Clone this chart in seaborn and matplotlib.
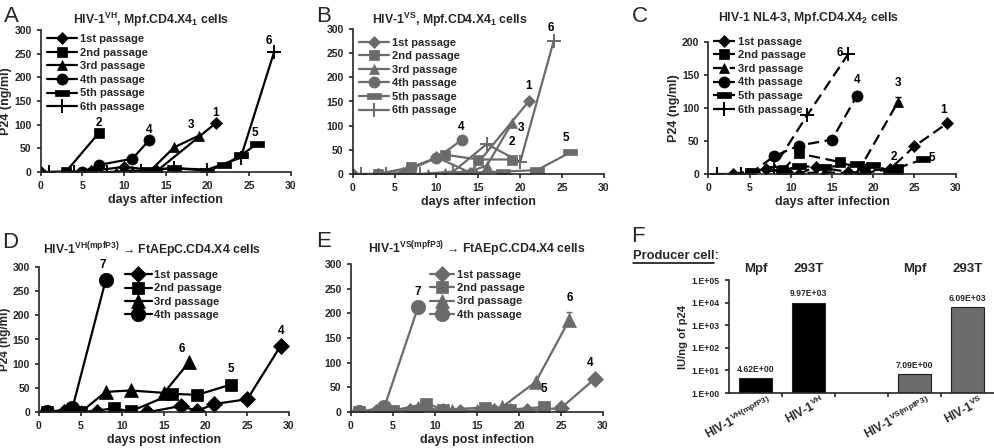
import numpy as np
import pandas as pd
import matplotlib
matplotlib.use('Agg')
import matplotlib.pyplot as plt
import seaborn as sns
from matplotlib.lines import Line2D
from matplotlib.transforms import ScaledTranslation, blended_transform_factory

# ---------------- data ----------------
passages = ['1st passage', '2nd passage', '3rd passage', '4th passage', '5th passage', '6th passage']

A_days = [[0, 6, 10, 14, 21], [3, 7], [9, 11, 13, 16, 19], [5, 7, 11, 13],
          [13, 16, 20, 22, 24, 26], [1, 4, 8, 12, 16, 20, 24, 28]]
A_p24 = [[0, 2, 11, 3, 103], [0, 83], [0, 2, 0, 52, 77], [0, 15, 28, 67],
         [5, 8, 3, 15, 35, 60], [0, 0, 0, 3, 8, 5, 30, 253]]
A_tags = ['1', '2', '3', '4', '5', '6']

B_days = [[0, 3, 6, 10, 14, 21], [3, 7, 11, 15, 19], [9, 11, 13, 16, 19], [3, 7, 10, 13],
          [13, 14, 18, 22, 26], [1, 4, 8, 12, 16, 20, 24]]
B_p24 = [[0, 0, 2, 35, 3, 150], [0, 14, 40, 30, 30], [0, 2, 0, 17, 105], [0, 12, 33, 70],
         [0, 3, 5, 8, 45], [0, 0, 0, 5, 62, 25, 276]]
B_tags = ['1', '2', '3', '4', '5', '6']

C_days = [[3, 7, 11, 13, 17, 19, 22, 25, 29], [5, 9, 11, 16, 19, 23], [10, 14, 18, 23],
          [5, 8, 11, 15, 18], [9, 11, 14, 18, 20, 22, 26], [1, 4, 8, 12, 17]]
C_p24 = [[0, 8, 0, 11, 3, 2, 7, 42, 77], [2, 6, 31, 18, 5, 8], [0, 3, 0, 109],
         [0, 27, 43, 52, 118], [5, 12, 10, 15, 13, 5, 22], [0, 0, 11, 89, 182]]
C_tags = ['1', '2', '3', '4', '5', '6']
C_err3 = 8

D_days = [[3, 7, 13, 17, 19, 21, 25, 29], [1, 5, 9, 11, 16, 19, 23], [5, 8, 11, 15, 18], [1, 4, 8]]
D_p24 = [[0, 0, 0, 13, 3, 17, 27, 137], [0, 0, 8, 2, 38, 36, 57], [0, 42, 45, 40, 103], [0, 8, 272]]
D_tags = ['4', '5', '6', '7']

E_days = [[3, 7, 11, 13, 17, 19, 21, 25, 29], [1, 5, 9, 11, 16, 19, 23], [4, 8, 12, 15, 18, 22, 26], [1, 4, 8]]
E_p24 = [[0, 3, 2, 1, 3, 2, 3, 8, 67], [0, 3, 17, 5, 9, 5, 10], [0, 8, 3, 3, 10, 61, 187], [0, 10, 212]]
E_tags = ['4', '5', '6', '7']
E_err3 = 15

F_order = ['HIV-1$^{VH(mpfP3)}$', 'HIV-1$^{VH}$', 'gap', 'HIV-1$^{VS(mpfP3)}$', 'HIV-1$^{VS}$']
F_names = ['HIV-1$^{VH(mpfP3)}$', 'HIV-1$^{VH}$', 'HIV-1$^{VS(mpfP3)}$', 'HIV-1$^{VS}$']
F_values = [4.62, 9970, 7.09, 6090]
F_producer = ['Mpf', '293T', 'Mpf', '293T']

# ---------------- style ----------------
sns.set_theme(style='ticks')
plt.rcParams['font.family'] = ['Liberation Sans', 'DejaVu Sans']
plt.rcParams['font.weight'] = 'bold'
plt.rcParams['mathtext.default'] = 'regular'
plt.rcParams['axes.linewidth'] = 1.2
plt.rcParams['xtick.major.width'] = 1.2
plt.rcParams['ytick.major.width'] = 1.2
plt.rcParams['xtick.major.size'] = 3
plt.rcParams['ytick.major.size'] = 3
plt.rcParams['xtick.labelsize'] = 7.5
plt.rcParams['ytick.labelsize'] = 7.5

BLACK = '#000000'
GRAY = '#6b6b6b'
BAR = [(-1, -0.38), (1, -0.38), (1, 0.38), (-1, 0.38), (-1, -0.38)]
MARK = [('D', 6), ('s', 7), ('^', 7.5), ('o', 8), (BAR, 9.5), ('+', 9.5)]

W, H = 994, 448
fig = plt.figure(figsize=(W / 100, H / 100), dpi=100)


def px_axes(l, t, r, b):
    return fig.add_axes([l / W, 1 - b / H, (r - l) / W, (b - t) / H])


def fig_text(x, y, s, **kw):
    fig.text(x / W, 1 - y / H, s, **kw)


def draw_lines(ax, days, vals, names, tags, offs, color, ls='-', mscale=1.0):
    for i, (d, v) in enumerate(zip(days, vals)):
        df = pd.DataFrame({'day': d, 'p24': v})
        m, ms = MARK[i]
        sns.lineplot(data=df, x='day', y='p24', ax=ax, errorbar=None, sort=False,
                     color=color, linestyle=ls, lw=1.6, marker=m,
                     markersize=ms * mscale, markerfacecolor=color,
                     markeredgecolor=color,
                     markeredgewidth=(1.4 if m == '+' else 0.5),
                     label=names[i])
        dx, dy, ha = offs[i]
        ax.annotate(tags[i], xy=(d[-1], v[-1]), xytext=(dx, dy), textcoords='offset points',
                    ha=ha, va='bottom', fontsize=8.5, fontweight='bold', color='black')


def finish(ax, ymax, ystep, ylabel, xlabel, leg_xy, handlelength, nleg, spacing, ylsize=9):
    ax.set_xlim(0, 30)
    ax.set_ylim(0, ymax)
    ax.set_xticks(range(0, 31, 5))
    ax.set_yticks(range(0, ymax + 1, ystep))
    sns.despine(ax=ax)
    ax.set_ylabel(ylabel, fontsize=ylsize, fontweight='bold', labelpad=1.5)
    ax.set_xlabel(xlabel, fontsize=9, fontweight='bold', labelpad=2)
    for lab in ax.get_xticklabels() + ax.get_yticklabels():
        lab.set_fontweight('bold')
    h, l = ax.get_legend_handles_labels()
    ax.legend(h[:nleg], l[:nleg], loc='upper left', bbox_to_anchor=leg_xy, frameon=False,
              borderaxespad=0, borderpad=0, handlelength=handlelength, handletextpad=0.25,
              labelspacing=spacing, prop={'size': 8, 'weight': 'bold'})


# ---------------- A ----------------
axA = px_axes(40.7, 30, 290.7, 172)
draw_lines(axA, A_days, A_p24, passages, A_tags,
           [(0, 3, 'center'), (0, 3, 'center'), (-6, 3, 'center'), (0, 3, 'center'),
            (-2, 3, 'center'), (-4, 4, 'center')], BLACK)
finish(axA, 300, 50, 'P24 (ng/ml)', 'days after infection', (0.025, 0.97), 2.7, 6, 0.32)

# ---------------- B ----------------
axB = px_axes(352.7, 29, 604, 174)
draw_lines(axB, B_days, B_p24, passages, B_tags,
           [(0, 7, 'center'), (0, 8, 'center'), (4, -8, 'left'), (0, 5, 'center'),
            (-3, 6, 'center'), (-2, 5, 'center')], GRAY)
finish(axB, 300, 50, '', 'days after infection', (0.025, 0.94), 2.7, 6, 0.32)

# ---------------- C ----------------
axC = px_axes(708.3, 41.7, 955.7, 174)
draw_lines(axC, C_days, C_p24, passages, C_tags,
           [(-3, 5, 'center'), (-3, 4, 'center'), (0, 9, 'center'), (0, 7, 'center'),
            (4, -3, 'left'), (-4, -4, 'right')], BLACK, ls=(0, (5, 2.5)))
axC.errorbar(C_days[2][-1], C_p24[2][-1], yerr=[[0], [C_err3]], fmt='none', ecolor='black',
             elinewidth=1, capsize=2.5)
finish(axC, 200, 50, 'P24 (ng/ml)', 'days after infection', (0.02, 1.037), 2.0, 6, 0.32)

# ---------------- D ----------------
axD = px_axes(39, 266.7, 289, 412.3)
draw_lines(axD, D_days, D_p24, passages[:4], D_tags,
           [(0, 6, 'center'), (0, 7, 'center'), (-5, 5, 'center'), (-2, 7, 'center')],
           BLACK, mscale=1.3)
finish(axD, 300, 50, 'P24 (ng/ml)', 'days post infection', (0.344, 0.975), 2.4, 4, 0.28, ylsize=8.5)

# ---------------- E ----------------
axE = px_axes(350.7, 264, 603, 412)
draw_lines(axE, E_days, E_p24, passages[:4], E_tags,
           [(-3, 7, 'center'), (0, 9, 'center'), (0, 11, 'center'), (0, 7, 'center')],
           GRAY, mscale=1.3)
axE.errorbar(E_days[2][-1], E_p24[2][-1], yerr=[[0], [E_err3]], fmt='none', ecolor=GRAY,
             elinewidth=1, capsize=2.5)
finish(axE, 300, 50, '', 'days post infection', (0.314, 0.958), 2.2, 4, 0.28)

# ---------------- F ----------------
axF = px_axes(729, 280, 994, 393)
dfF = pd.DataFrame({'virus': F_names, 'iu': F_values})
pal = {F_names[0]: BLACK, F_names[1]: BLACK, F_names[2]: GRAY, F_names[3]: GRAY}
axF.set_yscale('log', nonpositive='clip')
sns.barplot(data=dfF, x='virus', y='iu', hue='virus', order=F_order, hue_order=F_names,
            palette=pal, ax=axF, width=0.63, edgecolor='#222222', linewidth=0.8,
            legend=False, saturation=1)
axF.set_ylim(1, 1e5)
axF.set_xlim(-0.5, 4.5)
axF.set_yticks([1, 10, 100, 1e3, 1e4, 1e5])
axF.set_yticklabels(['1.E+00', '1.E+01', '1.E+02', '1.E+03', '1.E+04', '1.E+05'],
                    fontsize=6.3, fontweight='bold')
axF.minorticks_off()
sns.despine(ax=axF)
axF.set_ylabel('IU/ng of p24', fontsize=8, fontweight='bold', labelpad=3)
axF.set_xlabel('')
pos = [F_order.index(n) for n in F_names]
axF.set_xticks(pos)
axF.set_xticklabels(F_names, rotation=28, ha='right', va='top', rotation_mode='anchor',
                    fontsize=8.5, fontweight='bold')
axF.tick_params(axis='x', length=0, pad=0.5)
axF.set_xticks([0.5, 1.5, 2.5, 3.5], minor=True)
axF.tick_params(axis='x', which='minor', length=3, width=1.2)
for lab in axF.get_xticklabels():
    lab.set_transform(lab.get_transform() + ScaledTranslation(0.12, 0, fig.dpi_scale_trans))
tr = blended_transform_factory(axF.transData, axF.transAxes)
for p, v, prod in zip(pos, F_values, F_producer):
    axF.annotate(f'{v:.2E}', xy=(p, v), xytext=(0, 3), textcoords='offset points',
                 ha='center', va='bottom', fontsize=6.2, fontweight='bold')
    axF.text(p, 1.1, prod, transform=tr, ha='center', va='center', fontsize=9.5,
             fontweight='bold', clip_on=False)

# ---------------- figure texts ----------------
fig_text(151, 20, 'HIV-1$^{VH}$, Mpf.CD4.X4$_1$ cells', ha='center', va='center', fontsize=8.8, fontweight='bold')
fig_text(450, 20, 'HIV-1$^{VS}$, Mpf.CD4.X4$_1$ cells', ha='center', va='center', fontsize=8.8, fontweight='bold')
fig_text(808, 18, 'HIV-1 NL4-3, Mpf.CD4.X4$_2$ cells', ha='center', va='center', fontsize=8.8, fontweight='bold')
fig_text(152, 250, 'HIV-1$^{VH(mpfP3)}$ → FtAEpC.CD4.X4 cells', ha='center', va='center', fontsize=8.8, fontweight='bold')
fig_text(477, 249, 'HIV-1$^{VS(mpfP3)}$ → FtAEpC.CD4.X4 cells', ha='center', va='center', fontsize=8.8, fontweight='bold')

for x, y, s in [(4, 16, 'A'), (316, 16, 'B'), (632, 16, 'C'), (2, 242, 'D'), (316, 241, 'E'), (631, 236, 'F')]:
    fig_text(x, y, s, ha='left', va='center', fontsize=16, fontweight='normal')

fig_text(633, 256, 'Producer cell:', ha='left', va='center', fontsize=9.3, fontweight='bold')
fig.add_artist(Line2D([633 / W, 714 / W], [1 - 262.5 / H, 1 - 262.5 / H], color='black', lw=1.1))

fig.savefig('out.png', dpi=100)
